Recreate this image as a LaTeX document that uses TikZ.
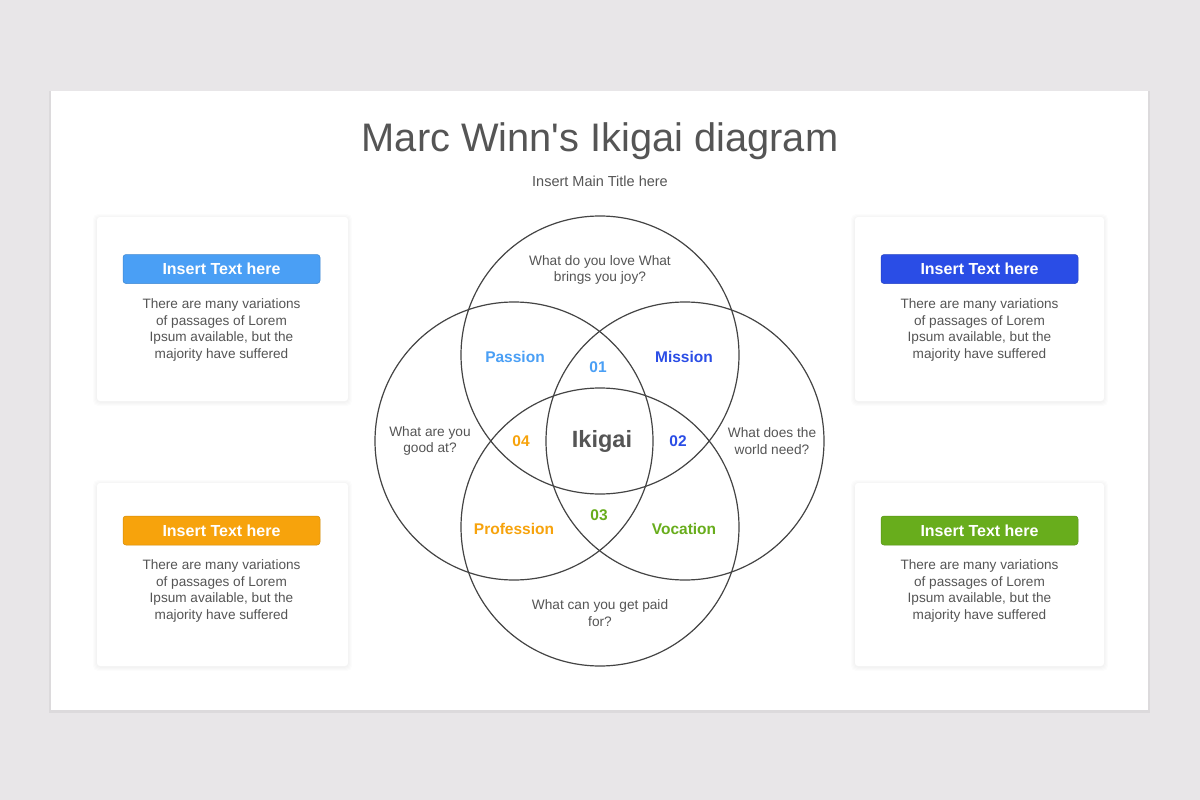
\documentclass[tikz,border=0pt]{standalone}
\usepackage{fontspec}
\setmainfont{Liberation Sans}
\definecolor{bg}{HTML}{E8E6E8}
\definecolor{txt}{HTML}{555555}
\definecolor{ring}{HTML}{444444}
\definecolor{lblue}{HTML}{4A9FF5}
\definecolor{dblue}{HTML}{2A4DE6}
\definecolor{orng}{HTML}{F7A30C}
\definecolor{grn}{HTML}{68AD1C}
\newcommand{\softcard}[4]{%
  \foreach \e in {4,3,2,1}{\fill[black, opacity=0.011, rounded corners=5pt] (#1-\e,#2-\e+1) rectangle (#3+\e,#4+\e+1);}
  \fill[white, rounded corners=3pt] (#1,#2) rectangle (#3,#4);}
\tikzset{
  bar/.style={rounded corners=3pt, draw=#1!85!black, line width=0.5pt, fill=#1, text=white, font=\fontsize{16}{18}\selectfont\bfseries, minimum width=197pt, minimum height=29pt, inner sep=0pt},
  body/.style={text=txt, font=\fontsize{13.6}{16.4}\selectfont, align=center, inner sep=0pt},
  ques/.style={text=txt, font=\fontsize{13.7}{16.5}\selectfont, align=center, inner sep=0pt},
  lab/.style={text=#1, font=\fontsize{15.5}{18}\selectfont\bfseries, inner sep=0pt},
  num/.style={text=#1, font=\fontsize{15.5}{18}\selectfont\bfseries, inner sep=0pt},
  ringc/.style={draw=ring, line width=1.2pt}
}
\begin{document}
\begin{tikzpicture}[x=1pt,y=-1pt]
\fill[bg] (0,0) rectangle (1200,800);
\useasboundingbox (0,0) rectangle (1200,800);
\fill[black, opacity=0.05] (49,91) rectangle (1150,713);
\fill[white] (51,91) rectangle (1148,710);
% title
\node[text=txt, font=\fontsize{39.8}{44}\selectfont, inner sep=0pt] (title) at (600,141) {Marc Winn\textquotesingle s Ikigai diagram};
\node[text=txt, font=\fontsize{14.5}{17}\selectfont, inner sep=0pt] (sub) at (600,181) {Insert Main Title here};
% cards
\softcard{97}{217}{348}{401}
\softcard{97}{483}{348}{666}
\softcard{855}{217}{1104}{401}
\softcard{855}{483}{1104}{666}
\node[bar=lblue] (b1) at (221.5,269) {Insert Text here};
\node[bar=orng] (b2) at (221.5,530.5) {Insert Text here};
\node[bar=dblue] (b3) at (979.5,269) {Insert Text here};
\node[bar=grn] (b4) at (979.5,530.5) {Insert Text here};
\node[body] (t1) at (221.5,330) {There are many variations\\of passages of Lorem\\Ipsum available, but the\\majority have suffered};
\node[body] (t2) at (221.5,591) {There are many variations\\of passages of Lorem\\Ipsum available, but the\\majority have suffered};
\node[body] (t3) at (979.5,330) {There are many variations\\of passages of Lorem\\Ipsum available, but the\\majority have suffered};
\node[body] (t4) at (979.5,591) {There are many variations\\of passages of Lorem\\Ipsum available, but the\\majority have suffered};
% circles
\node[ringc, circle, minimum size=278pt, inner sep=0pt] (ctop) at (600,355) {};
\node[ringc, circle, minimum size=278pt, inner sep=0pt] (cbot) at (600,527) {};
\node[ringc, circle, minimum size=278pt, inner sep=0pt] (cleft) at (514,441) {};
\node[ringc, circle, minimum size=278pt, inner sep=0pt] (cright) at (685,441) {};
% questions
\node[ques] (q1) at (600,270) {What do you love What\\brings you joy?};
\node[ques] (q2) at (430,441) {What are you\\good at?};
\node[ques] (q3) at (772,441) {What does the\\world need?};
\node[ques] (q4) at (600,613) {What can you get paid\\for?};
% labels
\node[lab=lblue] (passion) at (515,357) {Passion};
\node[lab=dblue] (mission) at (684,357) {Mission};
\node[lab=orng] (profession) at (514,529) {Profession};
\node[lab=grn] (vocation) at (684,529) {Vocation};
\node[num=lblue] (n1) at (598,367) {01};
\node[num=dblue] (n2) at (678,441) {02};
\node[num=grn] (n3) at (599,515) {03};
\node[num=orng] (n4) at (521,441) {04};
\node[text=txt, font=\fontsize{23.5}{26}\selectfont\bfseries, inner sep=0pt] (ikigai) at (602,441) {Ikigai};
\end{tikzpicture}
\end{document}
